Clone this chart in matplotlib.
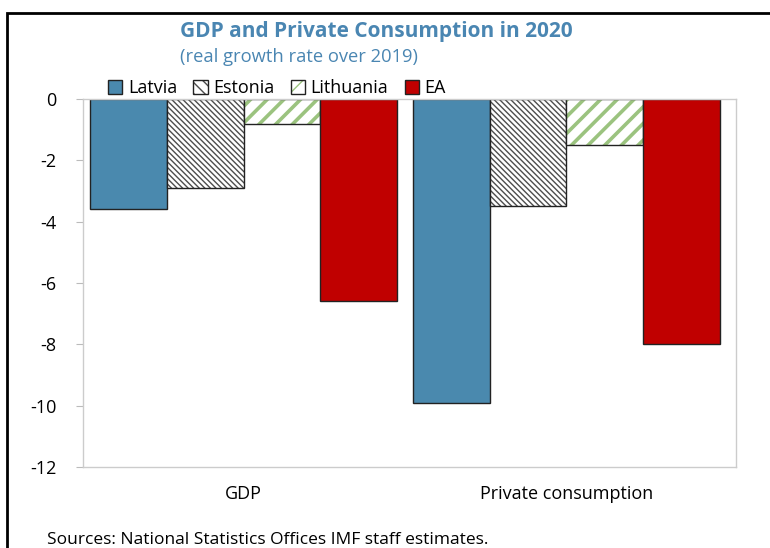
import numpy as np
import matplotlib as mpl
mpl.use('Agg')
import matplotlib.pyplot as plt
from matplotlib.patches import Patch, Rectangle

categories = ['GDP', 'Private consumption']
countries = ['Latvia', 'Estonia', 'Lithuania', 'EA']
latvia = [-3.6, -9.9]
estonia = [-2.9, -3.5]
lithuania = [-0.8, -1.5]
ea = [-6.6, -8.0]
yticks = [0, -2, -4, -6, -8, -10, -12]

plt.rcParams['font.family'] = ['Open Sans', 'DejaVu Sans']

title_col = '#4A86B2'
styles = [
    dict(facecolor='#4A89AE', hatch=None, hcol=None, hlw=1.0),
    dict(facecolor='white', hatch='\\\\\\\\\\\\', hcol='#4D4D4D', hlw=1.0),
    dict(facecolor='white', hatch='//', hcol='#9BC37F', hlw=2.6),
    dict(facecolor='#C00000', hatch=None, hcol=None, hlw=1.0),
]
series = [latvia, estonia, lithuania, ea]

fig = plt.figure(figsize=(7.7, 5.48), dpi=100)
ax = fig.add_axes([83/770, 1-467/548, (736-83)/770, (467-99)/548])

x = np.arange(len(categories))
w = 0.2376
handles = []
for i, (vals, st) in enumerate(zip(series, styles)):
    pos = x + (i - 1.5) * w
    if st['hatch']:
        with plt.rc_context({'hatch.linewidth': st['hlw']}):
            ax.bar(pos, vals, w, facecolor='white', edgecolor=st['hcol'],
                   hatch=st['hatch'], linewidth=0)
            hp = Patch(facecolor='white', edgecolor=st['hcol'], hatch=st['hatch'][:3],
                       linewidth=0)
        ax.bar(pos, vals, w, facecolor='none', edgecolor='#222222', linewidth=1.0)
        handles.append((hp, Patch(facecolor='none', edgecolor='#222222', linewidth=1.0)))
    else:
        ax.bar(pos, vals, w, facecolor=st['facecolor'], edgecolor='#222222', linewidth=1.0)
        handles.append(Patch(facecolor=st['facecolor'], edgecolor='#222222'))

ax.set_xlim(-0.497, 1.525)
ax.set_ylim(-12, 0)
ax.set_yticks(yticks)
ax.set_yticklabels([str(t) for t in yticks], fontsize=13)
ax.set_xticks(x)
ax.set_xticklabels(categories, fontsize=13)
ax.tick_params(axis='x', length=0, pad=13)
ax.tick_params(axis='y', length=5, color='#BBBBBB', pad=14)
for s in ax.spines.values():
    s.set_color('#CCCCCC')
    s.set_linewidth(1.0)

fig.text(180/770, 1-32/548, 'GDP and Private Consumption in 2020', color=title_col,
         fontsize=15, fontweight='bold', ha='left', va='center')
fig.text(180/770, 1-57/548, '(real growth rate over 2019)', color=title_col,
         fontsize=13.2, ha='left', va='center')

fig.legend(handles=handles, labels=countries, ncol=4, loc='center left',
           bbox_to_anchor=(108/770, 1-88/548), frameon=False, fontsize=13,
           handlelength=0.8, handleheight=0.8, handletextpad=0.3,
           columnspacing=0.9, borderpad=0, borderaxespad=0)

fig.text(47/770, 1-540/548, 'Sources: National Statistics Offices IMF staff estimates.',
         fontsize=12.5, ha='left', va='center')

fig.patches.append(Rectangle((7/770, -0.1), 1.2, 1-13/548+0.1, transform=fig.transFigure,
                             fill=False, edgecolor='black', linewidth=2, clip_on=False))

fig.savefig('out.png', dpi=100)
